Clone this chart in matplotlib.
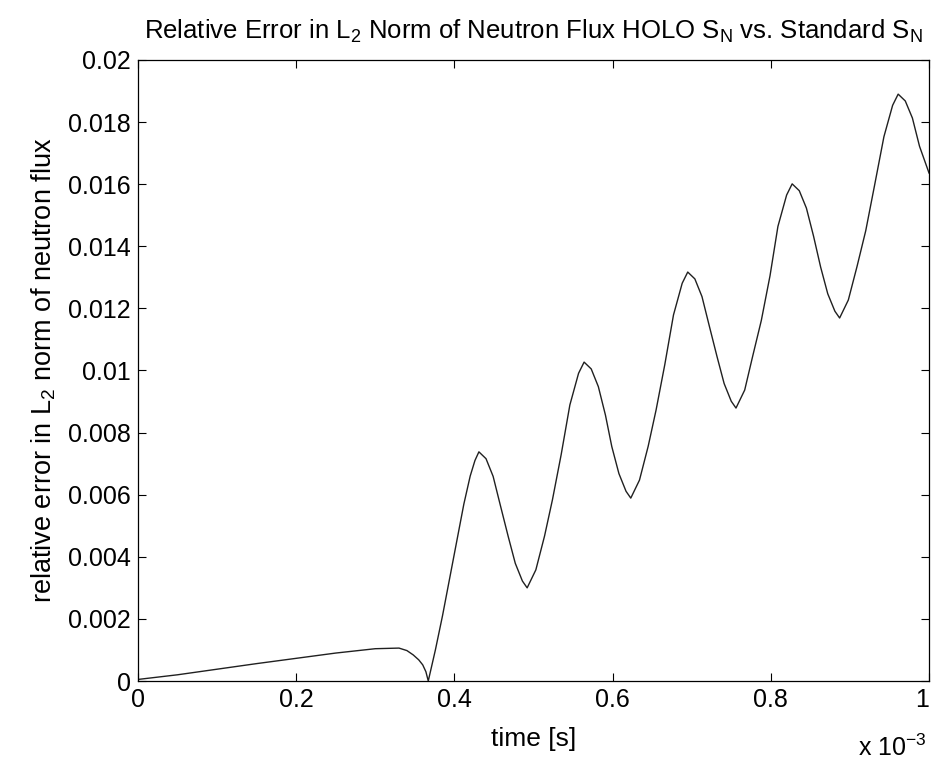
import matplotlib
matplotlib.use('Agg')
import matplotlib.pyplot as plt

# relative error curve, time in units of 1e-3 s
time_ms = [0.0, 0.05, 0.10, 0.15, 0.20, 0.25, 0.30, 0.33,
           0.340, 0.348, 0.355, 0.360, 0.364, 0.367,
           0.376, 0.385, 0.394, 0.403, 0.412, 0.420, 0.426, 0.431,
           0.440, 0.449, 0.458, 0.468, 0.477, 0.486, 0.492,
           0.503, 0.514, 0.524, 0.535, 0.546, 0.557, 0.564,
           0.573, 0.582, 0.591, 0.599, 0.608, 0.617, 0.623,
           0.634, 0.645, 0.655, 0.666, 0.677, 0.688, 0.695,
           0.704, 0.713, 0.722, 0.732, 0.741, 0.750, 0.756,
           0.767, 0.777, 0.788, 0.799, 0.809, 0.820, 0.827,
           0.836, 0.845, 0.854, 0.863, 0.872, 0.881, 0.887,
           0.898, 0.909, 0.920, 0.931, 0.943, 0.954, 0.961,
           0.970, 0.979, 0.988, 1.0]
rel_error = [0.00005, 0.00020, 0.00038, 0.00056, 0.00073, 0.00090, 0.00104, 0.00106,
             0.00098, 0.00084, 0.00068, 0.00052, 0.00030, 0.0,
             0.0010, 0.0021, 0.0033, 0.0045, 0.0057, 0.0066, 0.0071, 0.00738,
             0.00716, 0.00659, 0.00567, 0.00466, 0.00379, 0.00322, 0.0030,
             0.00358, 0.00467, 0.00584, 0.00729, 0.00889, 0.00991, 0.01027,
             0.01005, 0.00948, 0.00856, 0.00755, 0.00668, 0.00611, 0.00589,
             0.00647, 0.00756, 0.00873, 0.01019, 0.01179, 0.01281, 0.01317,
             0.01295, 0.01238, 0.01146, 0.01045, 0.00958, 0.00901, 0.00879,
             0.00937, 0.01045, 0.01161, 0.01305, 0.01464, 0.01565, 0.01601,
             0.01579, 0.01523, 0.01433, 0.01333, 0.01247, 0.01191, 0.01169,
             0.01227, 0.01335, 0.01450, 0.01594, 0.01753, 0.01854, 0.0189,
             0.01868, 0.01813, 0.01722, 0.01636]

x_ticks = [0, 0.2, 0.4, 0.6, 0.8, 1]
x_labels = ['0', '0.2', '0.4', '0.6', '0.8', '1']
y_ticks = [0, 0.002, 0.004, 0.006, 0.008, 0.01, 0.012, 0.014, 0.016, 0.018, 0.02]
y_labels = ['0', '0.002', '0.004', '0.006', '0.008', '0.01', '0.012', '0.014', '0.016', '0.018', '0.02']

plt.rcParams['font.family'] = ['Liberation Sans', 'DejaVu Sans']
plt.rcParams['mathtext.fontset'] = 'custom'
plt.rcParams['mathtext.rm'] = 'Liberation Sans'
plt.rcParams['mathtext.it'] = 'Liberation Sans'

fig = plt.figure(figsize=(9.32, 7.65), dpi=100)
ax = fig.add_axes([0.148, 0.1098, 0.8488, 0.8118])

ax.plot(time_ms, rel_error, color='#202020', linewidth=1.0)

ax.set_xlim(0, 1)
ax.set_ylim(0, 0.02)
ax.set_xticks(x_ticks)
ax.set_xticklabels(x_labels)
ax.set_yticks(y_ticks)
ax.set_yticklabels(y_labels)
ax.tick_params(direction='in', length=6, width=0.8, labelsize=18,
               top=True, right=True, pad=5)
ax.get_xticklabels()[-1].set_ha('right')
for s in ax.spines.values():
    s.set_linewidth(0.9)

ax.set_xlabel('time [s]', fontsize=19, labelpad=11)
ax.set_ylabel('relative error in L$_2$ norm of neutron flux', fontsize=19.5, labelpad=7)
ax.set_title('Relative Error in L$_2$ Norm of Neutron Flux HOLO S$_N$ vs. Standard S$_N$',
             fontsize=18.5, pad=15)
fig.text(0.921, 0.012, 'x 10$^{-3}$', fontsize=18, ha='left', va='baseline')

fig.savefig('out.png', dpi=100)
